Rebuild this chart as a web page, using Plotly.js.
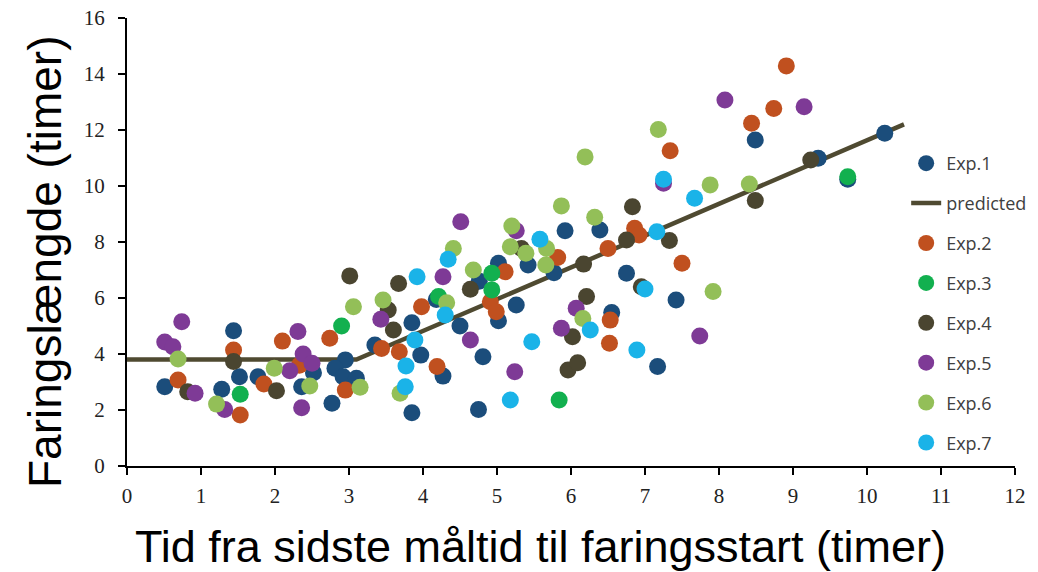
<!DOCTYPE html>
<html>
<head>
<meta charset="utf-8">
<script src="https://cdn.plot.ly/plotly-3.0.1.min.js"></script>
<style>html,body{margin:0;padding:0;background:#fff;}#chart{width:1038px;height:572px;}</style>
</head>
<body>
<div id="chart"></div>
<script>
// Data (x: hours since last meal, y: farrowing duration)
const exp1X = [0.51,1.44,1.52,1.28,1.77,2.36,2.52,2.95,2.81,2.92,3.10,2.77,3.35,3.85,3.97,3.85,4.27,4.18,4.50,4.81,4.75,4.76,5.02,5.02,5.26,5.42,5.77,5.92,6.39,6.75,6.55,7.42,7.17,8.49,9.34,9.74,10.24];
const exp1Y = [2.83,4.83,3.19,2.74,3.19,2.83,3.33,3.79,3.49,3.19,3.13,2.24,4.32,5.12,3.96,1.90,3.21,5.95,5.00,3.90,2.02,6.60,7.24,5.19,5.75,7.18,6.90,8.40,8.43,6.88,5.48,5.93,3.55,11.64,10.99,10.24,11.88];

const exp2X = [0.69,1.44,1.53,1.85,2.10,2.33,2.74,2.95,3.44,3.68,3.98,4.19,4.91,4.99,5.11,5.82,6.50,6.86,6.92,6.53,6.52,7.50,7.34,8.44,8.74,8.91];
const exp2Y = [3.07,4.14,1.82,2.93,4.46,3.60,4.56,2.71,4.20,4.08,5.69,3.55,5.87,5.51,6.94,7.45,7.77,8.49,8.25,5.21,4.38,7.24,11.26,12.24,12.77,14.29];

const exp3X = [1.53,2.90,4.21,4.93,4.93,5.84,9.74];
const exp3Y = [2.56,5.00,6.05,6.88,6.29,2.36,10.33];

const exp4X = [0.82,1.44,2.02,3.01,3.53,3.60,3.67,4.64,5.33,6.17,6.21,6.02,5.96,6.09,6.83,6.75,7.33,6.95,8.49,9.24];
const exp4Y = [2.65,3.73,2.69,6.79,5.57,4.86,6.52,6.31,7.77,7.21,6.05,4.62,3.43,3.69,9.26,8.07,8.05,6.40,9.48,10.93];

const exp5X = [0.74,0.51,0.62,0.92,1.32,2.20,2.31,2.38,2.50,2.36,3.43,4.27,4.51,4.64,5.26,5.24,5.87,6.07,7.25,7.74,8.08,9.15];
const exp5Y = [5.15,4.43,4.26,2.60,2.02,3.40,4.80,4.00,3.67,2.08,5.24,6.76,8.72,4.50,8.40,3.37,4.92,5.63,10.10,4.64,13.07,12.83];

const exp6X = [0.69,1.21,1.99,2.47,3.06,3.15,3.46,3.69,4.32,4.41,4.68,5.18,5.20,5.39,5.67,5.66,5.87,6.32,6.16,6.19,7.18,7.88,8.41,7.92];
const exp6Y = [3.82,2.21,3.49,2.86,5.69,2.81,5.93,2.60,5.83,7.77,7.00,7.83,8.57,7.60,7.77,7.18,9.29,8.88,5.27,11.04,12.02,10.04,10.07,6.23];

const exp7X = [3.89,3.77,3.76,3.92,4.30,4.34,5.58,6.26,6.89,5.47,5.18,7.25,7.67,7.16,7.00];
const exp7Y = [4.50,3.57,2.83,6.76,5.39,7.38,8.10,4.86,4.14,4.44,2.36,10.24,9.56,8.37,6.32];

const predictedX = [0, 3.1, 10.5];
const predictedY = [3.8, 3.8, 12.2];

const seriesNames = ["Exp.1","Exp.2","Exp.3","Exp.4","Exp.5","Exp.6","Exp.7"];
const seriesX = [exp1X, exp2X, exp3X, exp4X, exp5X, exp6X, exp7X];
const seriesY = [exp1Y, exp2Y, exp3Y, exp4Y, exp5Y, exp6Y, exp7Y];
const seriesColors = ["#1b4d7b","#c0501f","#12b04f","#4a4530","#7e3a96","#93bf58","#1ab3e8"];
const legendRanks = [1,3,4,5,6,7,8];

const xTicks = [0,1,2,3,4,5,6,7,8,9,10,11,12];
const yTicks = [0,2,4,6,8,10,12,14,16];

const traces = [];
traces.push({
  x: predictedX, y: predictedY, mode: "lines", name: "predicted",
  line: {color: "#4f4a31", width: 4.5},
  legendrank: 2, legendgroup: "pred", hoverinfo: "skip"
});
for (let i = 0; i < seriesNames.length; i++) {
  traces.push({
    x: seriesX[i], y: seriesY[i], mode: "markers", name: seriesNames[i],
    marker: {color: seriesColors[i], size: 17, line: {width: 0}},
    legendrank: legendRanks[i], legendgroup: "g" + i
  });
}

const layout = {
  width: 1038, height: 572,
  margin: {l: 127, r: 23, t: 18, b: 106, autoexpand: false},
  paper_bgcolor: "#ffffff", plot_bgcolor: "#ffffff",
  showlegend: true,
  legend: {
    xref: "container", yref: "container",
    x: 0.873, y: 0.7465, xanchor: "left", yanchor: "top",
    maxheight: 420,
    bgcolor: "rgba(0,0,0,0)", tracegroupgap: 13.5,
    font: {family: "Open Sans, sans-serif", size: 18, color: "#404040"}
  },
  xaxis: {
    range: [0, 12], tickvals: xTicks, ticktext: xTicks.map(String),
    showgrid: false, zeroline: false, showline: true, linecolor: "#000", linewidth: 2,
    ticks: "outside", ticklen: 7, tickwidth: 2, tickcolor: "#000", ticklabelstandoff: 3,
    tickfont: {family: "Liberation Serif, serif", size: 21, color: "#222"}
  },
  yaxis: {
    range: [0, 16], tickvals: yTicks, ticktext: yTicks.map(String),
    showgrid: false, zeroline: false, showline: true, linecolor: "#000", linewidth: 2,
    ticks: "outside", ticklen: 7, tickwidth: 2, tickcolor: "#000", ticklabelstandoff: 9,
    tickfont: {family: "Liberation Serif, serif", size: 21, color: "#222"}
  },
  annotations: [
    {text: "Tid fra sidste måltid til faringsstart (timer)", xref: "paper", yref: "paper",
     x: (540 - 127) / 888, y: 0, yshift: -80, xanchor: "center", yanchor: "middle", showarrow: false,
     font: {family: "Liberation Sans, Arial, sans-serif", size: 45, color: "#000"}},
    {text: "Faringslængde (timer)", xref: "paper", yref: "paper",
     x: 0, xshift: -82, y: (466 - 262) / 448, xanchor: "center", yanchor: "middle", textangle: -90, showarrow: false,
     font: {family: "Liberation Sans, Arial, sans-serif", size: 46, color: "#000"}}
  ]
};

Plotly.newPlot("chart", traces, layout, {displayModeBar: false, staticPlot: true});
</script>
</body>
</html>
